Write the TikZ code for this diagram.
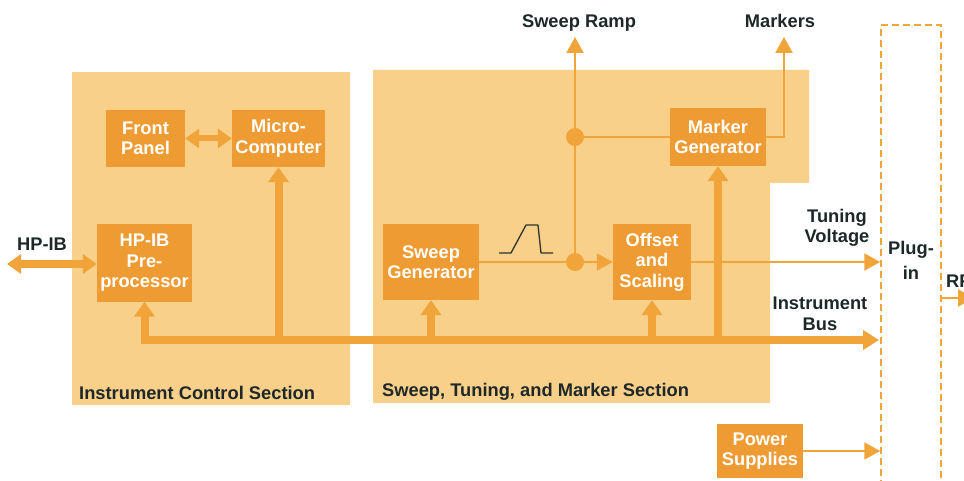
\documentclass[tikz,border=0pt]{standalone}
\usepackage{fontspec}
\setmainfont{Liberation Sans}
\usetikzlibrary{arrows.meta}
\definecolor{panel}{HTML}{F8D08A}
\definecolor{boxc}{HTML}{EE9B33}
\definecolor{linec}{HTML}{F0A43A}
\definecolor{ink}{HTML}{1E2828}
\definecolor{rampc}{HTML}{2A3328}
\begin{document}
\begin{tikzpicture}[x=1pt,y=-1pt,
 blk/.style={rectangle, fill=boxc, text=white, font=\fontsize{18.3}{20.5}\selectfont\bfseries, align=center, inner sep=0pt},
 lbl/.style={text=ink, font=\fontsize{18.3}{20.5}\selectfont\bfseries, align=center, inner sep=0pt},
 sig/.style={draw=linec, line width=2pt},
 sigarrow/.style={sig, -{Triangle[width=17pt,length=16pt]}},
 bus/.style={draw=linec, line width=8pt, line join=miter},
 bushead/.style={-{Triangle[width=20pt,length=15pt]}},
 dot/.style={circle, fill=linec, minimum size=18pt, inner sep=0pt},
]
\clip (0,0) rectangle (964,481);
\fill[white] (0,0) rectangle (964,481);
% section panels
\fill[panel] (72,72) rectangle (350,405);
\fill[panel] (373,70) -- (809,70) -- (809,183) -- (770,183) -- (770,403) -- (373,403) -- cycle;
% blocks
\node[blk, minimum width=79pt, minimum height=57pt] (fp) at (145.5,138.5) {Front\\Panel};
\node[blk, minimum width=93pt, minimum height=57pt] (mc) at (278.5,138.5) {Micro-\\Computer};
\node[blk, minimum width=95pt, minimum height=77pt] (hp) at (144.5,263) {HP-IB\\Pre-\\processor};
\node[blk, minimum width=96pt, minimum height=76pt] (sg) at (431,262) {Sweep\\Generator};
\node[blk, minimum width=78pt, minimum height=76pt] (os) at (652,262) {Offset\\and\\Scaling};
\node[blk, minimum width=96pt, minimum height=58pt] (mg) at (718,137) {Marker\\Generator};
\node[blk, minimum width=86pt, minimum height=54pt] (ps) at (760,451) {Power\\Supplies};
\node[lbl, font=\fontsize{18.3}{25}\selectfont\bfseries, draw=linec, line width=1.5pt, dash pattern=on 7pt off 4pt, minimum width=60pt, minimum height=470pt] (plug) at (911,260) {Plug-\\in};
% labels
\node[lbl] (hpibl) at (42,244) {HP-IB};
\node[lbl] (srl) at (579,23) {Sweep Ramp};
\node[lbl] (mkl) at (780,21) {Markers};
\node[lbl] (tvl) at (837,228) {Tuning\\Voltage};
\node[lbl] (ibl) at (820,314) {Instrument\\Bus};
\node[lbl, anchor=west] (ics) at (79,393) {Instrument Control Section};
\node[lbl, anchor=west] (stm) at (382,392) {Sweep, Tuning, and Marker Section};
\node[lbl, anchor=west] (rfl) at (946,281) {RF};
% coordinates
\coordinate (hpibL) at (7,264);
\coordinate (busR) at (879,340);
\coordinate (srTip) at (575,37);
\coordinate (mkTip) at (784,37);
\coordinate (rfTip) at (974,298);
% junctions
\node[dot] (j1) at (575,262) {};
\node[dot] (j2) at (575,137) {};
% buses
\draw[draw=linec, line width=8pt, {Triangle[width=19pt,length=14pt]}-{Triangle[width=19pt,length=14pt]}] (hpibL) -- (hp.west |- hpibL);
\draw[draw=linec, line width=6pt, {Triangle[width=19pt,length=14pt]}-{Triangle[width=19pt,length=14pt]}] (fp.east) -- (mc.west);
\draw[bus, {Triangle[width=20pt,length=15pt]}-{Triangle[width=19pt,length=16pt]}] (hp.south) |- (busR);
\draw[bus, bushead] (mc.south |- busR) -- (mc.south);
\draw[bus, bushead] (sg.south |- busR) -- (sg.south);
\draw[bus, bushead] (os.south |- busR) -- (os.south);
\draw[bus, bushead] (mg.south |- busR) -- (mg.south);
% signals
\draw[sigarrow] (sg.east) -- (os.west);
\draw[sigarrow] (j1.center) -- (srTip);
\draw[sig] (j2.center) -- (mg.west);
\draw[sigarrow] (mg.east) -| (mkTip);
\draw[sigarrow] (os.east) -- (plug.west |- os.east);
\draw[sigarrow] (ps.east) -- (plug.west |- ps.east);
\draw[sigarrow] (plug.east |- rfTip) -- (rfTip);
% ramp symbol
\draw[rampc, line width=1.3pt, line join=round] (499,253) -- (511,253) -- (526,225) -- (538,225) -- (541,253) -- (553,253);
\end{tikzpicture}
\end{document}
